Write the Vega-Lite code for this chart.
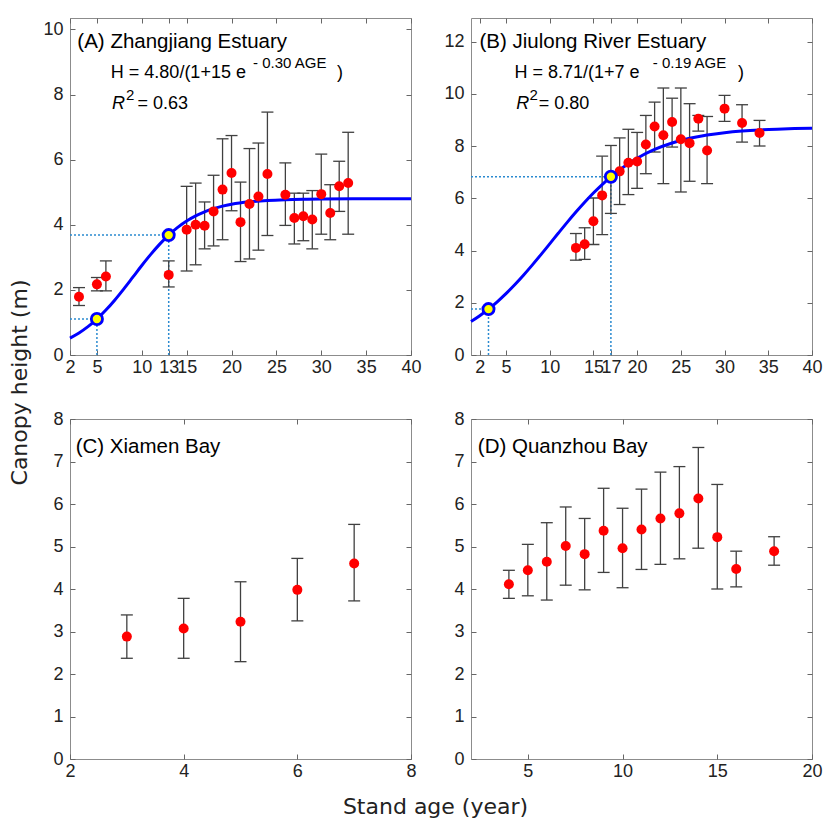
{
"$schema": "https://vega.github.io/schema/vega-lite/v6.json",
"background": "white",
"padding": {"left": 7, "top": 17, "right": 4, "bottom": 0},
"config": {
 "view": {"stroke": "#8c8c8c", "strokeWidth": 1},
 "axis": {"domain": false, "grid": false, "ticks": true, "tickSize": -5, "tickColor": "#666666", "tickWidth": 1,
  "labelFont": "Liberation Sans", "labelFontSize": 18, "labelColor": "#222222", "labelPadding": 8,
  "titleFont": "DejaVu Sans", "titleFontSize": 22, "titleFontWeight": "normal", "titleColor": "#222222"},
 "axisLeft": {"labelPadding": 12}
},
"datasets": {
 "ptsA": [
  {"x":3,"y":1.79,"lo":1.52,"hi":2.07},{"x":5,"y":2.17,"lo":1.97,"hi":2.38},{"x":6,"y":2.41,"lo":1.97,"hi":2.89},
  {"x":13,"y":2.46,"lo":2.09,"hi":2.89},{"x":15,"y":3.85,"lo":2.58,"hi":5.18},{"x":16,"y":4.0,"lo":2.77,"hi":5.28},
  {"x":17,"y":3.97,"lo":3.26,"hi":4.70},{"x":18,"y":4.41,"lo":3.35,"hi":5.52},{"x":19,"y":5.08,"lo":3.54,"hi":6.64},
  {"x":20,"y":5.59,"lo":4.43,"hi":6.74},{"x":21,"y":4.08,"lo":2.87,"hi":5.31},{"x":22,"y":4.64,"lo":2.95,"hi":6.34},
  {"x":23,"y":4.87,"lo":3.22,"hi":6.51},{"x":24,"y":5.56,"lo":3.67,"hi":7.46},{"x":26,"y":4.92,"lo":3.98,"hi":5.90},
  {"x":27,"y":4.21,"lo":3.41,"hi":4.97},{"x":28,"y":4.26,"lo":3.51,"hi":4.97},{"x":29,"y":4.16,"lo":3.26,"hi":5.05},
  {"x":30,"y":4.94,"lo":3.71,"hi":6.17},{"x":31,"y":4.36,"lo":3.54,"hi":5.23},{"x":32,"y":5.18,"lo":4.41,"hi":5.95},
  {"x":33,"y":5.28,"lo":3.71,"hi":6.84}],
 "ptsB": [
  {"x":13,"y":4.10,"lo":3.63,"hi":4.65},{"x":14,"y":4.24,"lo":3.66,"hi":4.87},{"x":15,"y":5.12,"lo":4.23,"hi":6.01},
  {"x":16,"y":6.11,"lo":4.61,"hi":7.61},{"x":17,"y":6.82,"lo":5.42,"hi":8.02},{"x":18,"y":7.03,"lo":5.76,"hi":8.31},
  {"x":19,"y":7.36,"lo":6.14,"hi":8.64},{"x":20,"y":7.41,"lo":6.38,"hi":8.52},{"x":21,"y":8.06,"lo":6.94,"hi":9.17},
  {"x":22,"y":8.75,"lo":7.77,"hi":9.68},{"x":23,"y":8.41,"lo":6.56,"hi":10.22},{"x":24,"y":8.92,"lo":7.96,"hi":9.83},
  {"x":25,"y":8.26,"lo":6.24,"hi":10.22},{"x":26,"y":8.11,"lo":6.65,"hi":9.62},{"x":27,"y":9.04,"lo":8.57,"hi":9.17},
  {"x":28,"y":7.83,"lo":6.56,"hi":9.13},{"x":30,"y":9.43,"lo":8.94,"hi":9.94},{"x":32,"y":8.88,"lo":8.15,"hi":9.58},
  {"x":34,"y":8.50,"lo":8.00,"hi":8.98}],
 "ptsC": [
  {"x":3,"y":2.88,"lo":2.37,"hi":3.39},{"x":4,"y":3.07,"lo":2.37,"hi":3.78},{"x":5,"y":3.23,"lo":2.29,"hi":4.17},
  {"x":6,"y":3.98,"lo":3.25,"hi":4.72},{"x":7,"y":4.60,"lo":3.72,"hi":5.52}],
 "ptsD": [
  {"x":4,"y":4.11,"lo":3.78,"hi":4.44},{"x":5,"y":4.44,"lo":3.84,"hi":5.05},{"x":6,"y":4.64,"lo":3.74,"hi":5.56},
  {"x":7,"y":5.01,"lo":4.09,"hi":5.93},{"x":8,"y":4.82,"lo":3.98,"hi":5.66},{"x":9,"y":5.37,"lo":4.39,"hi":6.37},
  {"x":10,"y":4.96,"lo":4.03,"hi":5.90},{"x":11,"y":5.40,"lo":4.46,"hi":6.35},{"x":12,"y":5.66,"lo":4.58,"hi":6.75},
  {"x":13,"y":5.78,"lo":4.71,"hi":6.88},{"x":14,"y":6.13,"lo":4.96,"hi":7.33},{"x":15,"y":5.22,"lo":4.00,"hi":6.46},
  {"x":16,"y":4.47,"lo":4.05,"hi":4.89},{"x":18,"y":4.89,"lo":4.56,"hi":5.23}],
 "curveA": [
  {"x":2,"y":0.520},{"x":3,"y":0.676},{"x":4,"y":0.870},{"x":5,"y":1.104},{"x":6,"y":1.380},{"x":7,"y":1.692},
  {"x":8,"y":2.033},{"x":9,"y":2.390},{"x":10,"y":2.748},{"x":11,"y":3.090},{"x":12,"y":3.405},{"x":13,"y":3.682},
  {"x":14,"y":3.919},{"x":15,"y":4.114},{"x":16,"y":4.273},{"x":17,"y":4.398},{"x":18,"y":4.495},{"x":19,"y":4.571},
  {"x":20,"y":4.628},{"x":22,"y":4.704},{"x":24,"y":4.747},{"x":26,"y":4.771},{"x":28,"y":4.784},{"x":30,"y":4.791},
  {"x":34,"y":4.797},{"x":40,"y":4.800}],
 "curveB": [
  {"x":1,"y":1.283},{"x":2,"y":1.505},{"x":3,"y":1.757},{"x":4,"y":2.038},{"x":5,"y":2.350},{"x":6,"y":2.689},
  {"x":7,"y":3.055},{"x":8,"y":3.441},{"x":9,"y":3.843},{"x":10,"y":4.255},{"x":11,"y":4.668},{"x":12,"y":5.076},
  {"x":13,"y":5.471},{"x":14,"y":5.847},{"x":15,"y":6.200},{"x":16,"y":6.525},{"x":17,"y":6.821},{"x":18,"y":7.087},
  {"x":19,"y":7.323},{"x":20,"y":7.531},{"x":22,"y":7.867},{"x":24,"y":8.116},{"x":26,"y":8.295},{"x":28,"y":8.422},
  {"x":30,"y":8.511},{"x":32,"y":8.573},{"x":34,"y":8.616},{"x":36,"y":8.645},{"x":38,"y":8.666},{"x":40,"y":8.680}],
 "guideA": [
  {"x1":2,"x2":5,"y1":1.104,"y2":1.104},{"x1":5,"x2":5,"y1":0,"y2":1.104},
  {"x1":2,"x2":13,"y1":3.682,"y2":3.682},{"x1":13,"x2":13,"y1":0,"y2":3.682}],
 "guideB": [
  {"x1":1,"x2":3,"y1":1.757,"y2":1.757},{"x1":3,"x2":3,"y1":0,"y2":1.757},
  {"x1":1,"x2":17,"y1":6.821,"y2":6.821},{"x1":17,"x2":17,"y1":0,"y2":6.821}],
 "yelA": [{"x":5,"y":1.104},{"x":13,"y":3.682}],
 "yelB": [{"x":3,"y":1.757},{"x":17,"y":6.821}],
 "txtA": [
  {"kind":"title","x":2.82,"y":9.44,"t":"(A) Zhangjiang Estuary"},
  {"kind":"main","x":6.55,"y":8.50,"t":"H = 4.80/(1+15 e"},
  {"kind":"main","x":31.75,"y":8.50,"t":")"},
  {"kind":"main","x":9.52,"y":7.56,"t":"= 0.63"},
  {"kind":"sup","x":22.4,"y":8.80,"t":"- 0.30 AGE"},
  {"kind":"sup","x":8.23,"y":7.83,"t":"2"},
  {"kind":"ital","x":6.69,"y":7.56,"t":"R"}],
 "txtB": [
  {"kind":"title","x":1.97,"y":11.76,"t":"(B) Jiulong River Estuary"},
  {"kind":"main","x":5.97,"y":10.59,"t":"H = 8.71/(1+7 e"},
  {"kind":"main","x":31.55,"y":10.59,"t":")"},
  {"kind":"main","x":8.75,"y":9.42,"t":"= 0.80"},
  {"kind":"sup","x":21.8,"y":10.97,"t":"- 0.19 AGE"},
  {"kind":"sup","x":7.69,"y":9.76,"t":"2"},
  {"kind":"ital","x":6.17,"y":9.42,"t":"R"}],
 "txtC": [{"kind":"title","x":2.10,"y":7.21,"t":"(C) Xiamen Bay"}],
 "txtD": [{"kind":"title","x":2.36,"y":7.21,"t":"(D) Quanzhou Bay"}]
},
"columns": 2,
"spacing": {"row": 64, "column": 60},
"bounds": "flush",
"concat": [
  {"width": 341, "height": 337,
   "resolve": {"axis": {"x": "independent", "y": "independent"}},
   "layer": [
    {"data": {"name": "guideA"},
     "mark": {"type": "rule", "color": "#2b8ad0", "strokeDash": [2, 2], "strokeWidth": 1.5},
     "encoding": {
      "x": {"field": "x1", "type": "quantitative", "scale": {"domain": [2, 40], "nice": false, "zero": false},
            "axis": {"orient": "bottom", "values": [2, 5, 10, 13, 15, 20, 25, 30, 35, 40], "format": "d", "title": null, "labelFlush": false, "labelOverlap": false}},
      "x2": {"field": "x2"},
      "y": {"field": "y1", "type": "quantitative", "scale": {"domain": [0, 10.35], "nice": false, "zero": false},
            "axis": {"orient": "left", "values": [0, 2, 4, 6, 8, 10], "format": "d", "labelOverlap": false, "title": "Canopy height (m)", "titleAngle": 270, "titleBaseline": "bottom", "titleAlign": "center", "titleX": -39, "titleY": 364}},
      "y2": {"field": "y2"}}},
    {"data": {"name": "ptsA"},
     "mark": {"type": "rule", "color": "#404040", "strokeWidth": 1.3},
     "encoding": {
      "x": {"field": "x", "type": "quantitative", "scale": {"domain": [2, 40], "nice": false, "zero": false},
            "axis": {"orient": "top", "values": [2, 5, 10, 13, 15, 20, 25, 30, 35, 40], "labels": false, "title": null}},
      "y": {"field": "lo", "type": "quantitative", "scale": {"domain": [0, 10.35], "nice": false, "zero": false},
            "axis": {"orient": "right", "values": [0, 2, 4, 6, 8, 10], "labels": false, "title": null}},
      "y2": {"field": "hi"}}},
    {"data": {"name": "ptsA"},
     "mark": {"type": "tick", "orient": "horizontal", "color": "#404040", "size": 12, "thickness": 1.3, "opacity": 1},
     "encoding": {
      "x": {"field": "x", "type": "quantitative", "scale": {"domain": [2, 40], "nice": false, "zero": false}, "axis": null},
      "y": {"field": "lo", "type": "quantitative", "scale": {"domain": [0, 10.35], "nice": false, "zero": false}, "axis": null}}},
    {"data": {"name": "ptsA"},
     "mark": {"type": "tick", "orient": "horizontal", "color": "#404040", "size": 12, "thickness": 1.3, "opacity": 1},
     "encoding": {
      "x": {"field": "x", "type": "quantitative", "scale": {"domain": [2, 40], "nice": false, "zero": false}, "axis": null},
      "y": {"field": "hi", "type": "quantitative", "scale": {"domain": [0, 10.35], "nice": false, "zero": false}, "axis": null}}},
    {"data": {"name": "curveA"},
     "mark": {"type": "line", "color": "#0000ff", "strokeWidth": 3, "interpolate": "monotone"},
     "encoding": {
      "x": {"field": "x", "type": "quantitative", "scale": {"domain": [2, 40], "nice": false, "zero": false}, "axis": null},
      "y": {"field": "y", "type": "quantitative", "scale": {"domain": [0, 10.35], "nice": false, "zero": false}, "axis": null}}},
    {"data": {"name": "ptsA"},
     "mark": {"type": "circle", "color": "#ff0000", "size": 100, "opacity": 1},
     "encoding": {
      "x": {"field": "x", "type": "quantitative", "scale": {"domain": [2, 40], "nice": false, "zero": false}, "axis": null},
      "y": {"field": "y", "type": "quantitative", "scale": {"domain": [0, 10.35], "nice": false, "zero": false}, "axis": null}}},
    {"data": {"name": "yelA"},
     "mark": {"type": "circle", "fill": "#ffff00", "stroke": "#0000ff", "strokeWidth": 2.8, "size": 125, "opacity": 1},
     "encoding": {
      "x": {"field": "x", "type": "quantitative", "scale": {"domain": [2, 40], "nice": false, "zero": false}, "axis": null},
      "y": {"field": "y", "type": "quantitative", "scale": {"domain": [0, 10.35], "nice": false, "zero": false}, "axis": null}}},
    {"data": {"name": "txtA"}, "transform": [{"filter": "datum.kind === 'title'"}],
     "mark": {"type": "text", "align": "left", "baseline": "alphabetic", "font": "Liberation Sans", "fontSize": 20.5, "color": "#000000"},
     "encoding": {
      "x": {"field": "x", "type": "quantitative", "scale": {"domain": [2, 40], "nice": false, "zero": false}, "axis": null},
      "y": {"field": "y", "type": "quantitative", "scale": {"domain": [0, 10.35], "nice": false, "zero": false}, "axis": null},
      "text": {"field": "t", "type": "nominal"}}},
    {"data": {"name": "txtA"}, "transform": [{"filter": "datum.kind === 'main'"}],
     "mark": {"type": "text", "align": "left", "baseline": "alphabetic", "font": "Liberation Sans", "fontSize": 18, "color": "#000000"},
     "encoding": {
      "x": {"field": "x", "type": "quantitative", "scale": {"domain": [2, 40], "nice": false, "zero": false}, "axis": null},
      "y": {"field": "y", "type": "quantitative", "scale": {"domain": [0, 10.35], "nice": false, "zero": false}, "axis": null},
      "text": {"field": "t", "type": "nominal"}}},
    {"data": {"name": "txtA"}, "transform": [{"filter": "datum.kind === 'sup'"}],
     "mark": {"type": "text", "align": "left", "baseline": "alphabetic", "font": "Liberation Sans", "fontSize": 15, "color": "#000000"},
     "encoding": {
      "x": {"field": "x", "type": "quantitative", "scale": {"domain": [2, 40], "nice": false, "zero": false}, "axis": null},
      "y": {"field": "y", "type": "quantitative", "scale": {"domain": [0, 10.35], "nice": false, "zero": false}, "axis": null},
      "text": {"field": "t", "type": "nominal"}}},
    {"data": {"name": "txtA"}, "transform": [{"filter": "datum.kind === 'ital'"}],
     "mark": {"type": "text", "align": "left", "baseline": "alphabetic", "font": "Liberation Sans", "fontSize": 18, "fontStyle": "italic", "color": "#000000"},
     "encoding": {
      "x": {"field": "x", "type": "quantitative", "scale": {"domain": [2, 40], "nice": false, "zero": false}, "axis": null},
      "y": {"field": "y", "type": "quantitative", "scale": {"domain": [0, 10.35], "nice": false, "zero": false}, "axis": null},
      "text": {"field": "t", "type": "nominal"}}}
   ]},
  {"width": 341, "height": 337,
   "resolve": {"axis": {"x": "independent", "y": "independent"}},
   "layer": [
    {"data": {"name": "guideB"},
     "mark": {"type": "rule", "color": "#2b8ad0", "strokeDash": [2, 2], "strokeWidth": 1.5},
     "encoding": {
      "x": {"field": "x1", "type": "quantitative", "scale": {"domain": [1, 40], "nice": false, "zero": false},
            "axis": {"orient": "bottom", "values": [2, 5, 10, 15, 17, 20, 25, 30, 35, 40], "format": "d", "title": null, "labelFlush": false, "labelOverlap": false}},
      "x2": {"field": "x2"},
      "y": {"field": "y1", "type": "quantitative", "scale": {"domain": [0, 12.9], "nice": false, "zero": false},
            "axis": {"orient": "left", "values": [0, 2, 4, 6, 8, 10, 12], "format": "d", "labelOverlap": false, "title": null}},
      "y2": {"field": "y2"}}},
    {"data": {"name": "ptsB"},
     "mark": {"type": "rule", "color": "#404040", "strokeWidth": 1.3},
     "encoding": {
      "x": {"field": "x", "type": "quantitative", "scale": {"domain": [1, 40], "nice": false, "zero": false},
            "axis": {"orient": "top", "values": [2, 5, 10, 15, 17, 20, 25, 30, 35, 40], "labels": false, "title": null}},
      "y": {"field": "lo", "type": "quantitative", "scale": {"domain": [0, 12.9], "nice": false, "zero": false},
            "axis": {"orient": "right", "values": [0, 2, 4, 6, 8, 10, 12], "labels": false, "title": null}},
      "y2": {"field": "hi"}}},
    {"data": {"name": "ptsB"},
     "mark": {"type": "tick", "orient": "horizontal", "color": "#404040", "size": 12, "thickness": 1.3, "opacity": 1},
     "encoding": {
      "x": {"field": "x", "type": "quantitative", "scale": {"domain": [1, 40], "nice": false, "zero": false}, "axis": null},
      "y": {"field": "lo", "type": "quantitative", "scale": {"domain": [0, 12.9], "nice": false, "zero": false}, "axis": null}}},
    {"data": {"name": "ptsB"},
     "mark": {"type": "tick", "orient": "horizontal", "color": "#404040", "size": 12, "thickness": 1.3, "opacity": 1},
     "encoding": {
      "x": {"field": "x", "type": "quantitative", "scale": {"domain": [1, 40], "nice": false, "zero": false}, "axis": null},
      "y": {"field": "hi", "type": "quantitative", "scale": {"domain": [0, 12.9], "nice": false, "zero": false}, "axis": null}}},
    {"data": {"name": "curveB"},
     "mark": {"type": "line", "color": "#0000ff", "strokeWidth": 3, "interpolate": "monotone"},
     "encoding": {
      "x": {"field": "x", "type": "quantitative", "scale": {"domain": [1, 40], "nice": false, "zero": false}, "axis": null},
      "y": {"field": "y", "type": "quantitative", "scale": {"domain": [0, 12.9], "nice": false, "zero": false}, "axis": null}}},
    {"data": {"name": "ptsB"},
     "mark": {"type": "circle", "color": "#ff0000", "size": 100, "opacity": 1},
     "encoding": {
      "x": {"field": "x", "type": "quantitative", "scale": {"domain": [1, 40], "nice": false, "zero": false}, "axis": null},
      "y": {"field": "y", "type": "quantitative", "scale": {"domain": [0, 12.9], "nice": false, "zero": false}, "axis": null}}},
    {"data": {"name": "yelB"},
     "mark": {"type": "circle", "fill": "#ffff00", "stroke": "#0000ff", "strokeWidth": 2.8, "size": 125, "opacity": 1},
     "encoding": {
      "x": {"field": "x", "type": "quantitative", "scale": {"domain": [1, 40], "nice": false, "zero": false}, "axis": null},
      "y": {"field": "y", "type": "quantitative", "scale": {"domain": [0, 12.9], "nice": false, "zero": false}, "axis": null}}},
    {"data": {"name": "txtB"}, "transform": [{"filter": "datum.kind === 'title'"}],
     "mark": {"type": "text", "align": "left", "baseline": "alphabetic", "font": "Liberation Sans", "fontSize": 20.5, "color": "#000000"},
     "encoding": {
      "x": {"field": "x", "type": "quantitative", "scale": {"domain": [1, 40], "nice": false, "zero": false}, "axis": null},
      "y": {"field": "y", "type": "quantitative", "scale": {"domain": [0, 12.9], "nice": false, "zero": false}, "axis": null},
      "text": {"field": "t", "type": "nominal"}}},
    {"data": {"name": "txtB"}, "transform": [{"filter": "datum.kind === 'main'"}],
     "mark": {"type": "text", "align": "left", "baseline": "alphabetic", "font": "Liberation Sans", "fontSize": 18, "color": "#000000"},
     "encoding": {
      "x": {"field": "x", "type": "quantitative", "scale": {"domain": [1, 40], "nice": false, "zero": false}, "axis": null},
      "y": {"field": "y", "type": "quantitative", "scale": {"domain": [0, 12.9], "nice": false, "zero": false}, "axis": null},
      "text": {"field": "t", "type": "nominal"}}},
    {"data": {"name": "txtB"}, "transform": [{"filter": "datum.kind === 'sup'"}],
     "mark": {"type": "text", "align": "left", "baseline": "alphabetic", "font": "Liberation Sans", "fontSize": 15, "color": "#000000"},
     "encoding": {
      "x": {"field": "x", "type": "quantitative", "scale": {"domain": [1, 40], "nice": false, "zero": false}, "axis": null},
      "y": {"field": "y", "type": "quantitative", "scale": {"domain": [0, 12.9], "nice": false, "zero": false}, "axis": null},
      "text": {"field": "t", "type": "nominal"}}},
    {"data": {"name": "txtB"}, "transform": [{"filter": "datum.kind === 'ital'"}],
     "mark": {"type": "text", "align": "left", "baseline": "alphabetic", "font": "Liberation Sans", "fontSize": 18, "fontStyle": "italic", "color": "#000000"},
     "encoding": {
      "x": {"field": "x", "type": "quantitative", "scale": {"domain": [1, 40], "nice": false, "zero": false}, "axis": null},
      "y": {"field": "y", "type": "quantitative", "scale": {"domain": [0, 12.9], "nice": false, "zero": false}, "axis": null},
      "text": {"field": "t", "type": "nominal"}}}
   ]},
  {"width": 341, "height": 340,
   "resolve": {"axis": {"x": "independent", "y": "independent"}},
   "layer": [
    {"data": {"name": "ptsC"},
     "mark": {"type": "rule", "color": "#404040", "strokeWidth": 1.3},
     "encoding": {
      "x": {"field": "x", "type": "quantitative", "scale": {"domain": [2, 8], "nice": false, "zero": false},
            "axis": {"orient": "bottom", "values": [2, 4, 6, 8], "format": "d", "labelFlush": false, "labelOverlap": false, "title": "Stand age (year)", "titleBaseline": "top", "titleAlign": "center", "titleX": 365, "titleY": 37}},
      "y": {"field": "lo", "type": "quantitative", "scale": {"domain": [0, 8], "nice": false, "zero": false},
            "axis": {"orient": "left", "values": [0, 1, 2, 3, 4, 5, 6, 7, 8], "format": "d", "labelOverlap": false, "title": null}},
      "y2": {"field": "hi"}}},
    {"data": {"name": "ptsC"},
     "mark": {"type": "tick", "orient": "horizontal", "color": "#404040", "size": 12, "thickness": 1.3, "opacity": 1},
     "encoding": {
      "x": {"field": "x", "type": "quantitative", "scale": {"domain": [2, 8], "nice": false, "zero": false},
            "axis": {"orient": "top", "values": [2, 4, 6, 8], "labels": false, "title": null}},
      "y": {"field": "lo", "type": "quantitative", "scale": {"domain": [0, 8], "nice": false, "zero": false},
            "axis": {"orient": "right", "values": [0, 1, 2, 3, 4, 5, 6, 7, 8], "labels": false, "title": null}}}},
    {"data": {"name": "ptsC"},
     "mark": {"type": "tick", "orient": "horizontal", "color": "#404040", "size": 12, "thickness": 1.3, "opacity": 1},
     "encoding": {
      "x": {"field": "x", "type": "quantitative", "scale": {"domain": [2, 8], "nice": false, "zero": false}, "axis": null},
      "y": {"field": "hi", "type": "quantitative", "scale": {"domain": [0, 8], "nice": false, "zero": false}, "axis": null}}},
    {"data": {"name": "ptsC"},
     "mark": {"type": "circle", "color": "#ff0000", "size": 100, "opacity": 1},
     "encoding": {
      "x": {"field": "x", "type": "quantitative", "scale": {"domain": [2, 8], "nice": false, "zero": false}, "axis": null},
      "y": {"field": "y", "type": "quantitative", "scale": {"domain": [0, 8], "nice": false, "zero": false}, "axis": null}}},
    {"data": {"name": "txtC"},
     "mark": {"type": "text", "align": "left", "baseline": "alphabetic", "font": "Liberation Sans", "fontSize": 20.5, "color": "#000000"},
     "encoding": {
      "x": {"field": "x", "type": "quantitative", "scale": {"domain": [2, 8], "nice": false, "zero": false}, "axis": null},
      "y": {"field": "y", "type": "quantitative", "scale": {"domain": [0, 8], "nice": false, "zero": false}, "axis": null},
      "text": {"field": "t", "type": "nominal"}}}
   ]},
  {"width": 341, "height": 340,
   "resolve": {"axis": {"x": "independent", "y": "independent"}},
   "layer": [
    {"data": {"name": "ptsD"},
     "mark": {"type": "rule", "color": "#404040", "strokeWidth": 1.3},
     "encoding": {
      "x": {"field": "x", "type": "quantitative", "scale": {"domain": [2, 20], "nice": false, "zero": false},
            "axis": {"orient": "bottom", "values": [5, 10, 15, 20], "format": "d", "labelFlush": false, "labelOverlap": false, "title": null}},
      "y": {"field": "lo", "type": "quantitative", "scale": {"domain": [0, 8], "nice": false, "zero": false},
            "axis": {"orient": "left", "values": [0, 1, 2, 3, 4, 5, 6, 7, 8], "format": "d", "labelOverlap": false, "title": null}},
      "y2": {"field": "hi"}}},
    {"data": {"name": "ptsD"},
     "mark": {"type": "tick", "orient": "horizontal", "color": "#404040", "size": 12, "thickness": 1.3, "opacity": 1},
     "encoding": {
      "x": {"field": "x", "type": "quantitative", "scale": {"domain": [2, 20], "nice": false, "zero": false},
            "axis": {"orient": "top", "values": [5, 10, 15, 20], "labels": false, "title": null}},
      "y": {"field": "lo", "type": "quantitative", "scale": {"domain": [0, 8], "nice": false, "zero": false},
            "axis": {"orient": "right", "values": [0, 1, 2, 3, 4, 5, 6, 7, 8], "labels": false, "title": null}}}},
    {"data": {"name": "ptsD"},
     "mark": {"type": "tick", "orient": "horizontal", "color": "#404040", "size": 12, "thickness": 1.3, "opacity": 1},
     "encoding": {
      "x": {"field": "x", "type": "quantitative", "scale": {"domain": [2, 20], "nice": false, "zero": false}, "axis": null},
      "y": {"field": "hi", "type": "quantitative", "scale": {"domain": [0, 8], "nice": false, "zero": false}, "axis": null}}},
    {"data": {"name": "ptsD"},
     "mark": {"type": "circle", "color": "#ff0000", "size": 100, "opacity": 1},
     "encoding": {
      "x": {"field": "x", "type": "quantitative", "scale": {"domain": [2, 20], "nice": false, "zero": false}, "axis": null},
      "y": {"field": "y", "type": "quantitative", "scale": {"domain": [0, 8], "nice": false, "zero": false}, "axis": null}}},
    {"data": {"name": "txtD"},
     "mark": {"type": "text", "align": "left", "baseline": "alphabetic", "font": "Liberation Sans", "fontSize": 20.5, "color": "#000000"},
     "encoding": {
      "x": {"field": "x", "type": "quantitative", "scale": {"domain": [2, 20], "nice": false, "zero": false}, "axis": null},
      "y": {"field": "y", "type": "quantitative", "scale": {"domain": [0, 8], "nice": false, "zero": false}, "axis": null},
      "text": {"field": "t", "type": "nominal"}}}
   ]}
]
}
